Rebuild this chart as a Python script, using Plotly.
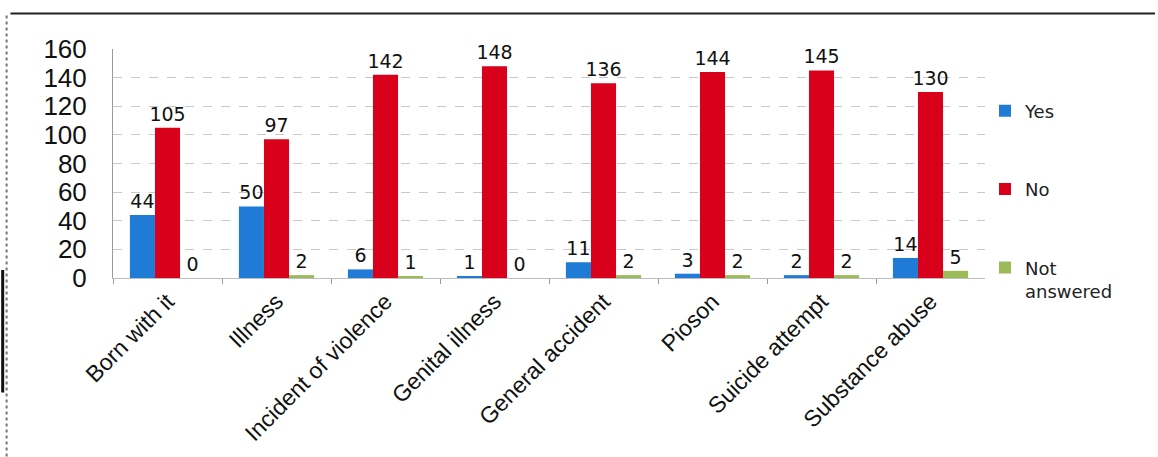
import plotly.graph_objects as go

categories = ["Born with it", "Illness", "Incident of violence", "Genital illness",
              "General accident", "Pioson", "Suicide attempt", "Substance abuse"]
yes_vals = [44, 50, 6, 1, 11, 3, 2, 14]
no_vals = [105, 97, 142, 148, 136, 144, 145, 130]
not_answered_vals = [0, 2, 1, 0, 2, 2, 2, 5]
y_ticks = [0, 20, 40, 60, 80, 100, 120, 140, 160]

label_font = dict(family="DejaVu Sans", size=19, color="#111111")

series = [
    ("Yes", yes_vals, "#1f7bd6", "g1"),
    ("No", no_vals, "#d9001b", "g2"),
    ("Not<br>answered", not_answered_vals, "#9bbb59", "g3"),
]

fig = go.Figure()
for name, vals, color, grp in series:
    fig.add_trace(go.Bar(
        x=categories, y=vals, name=name, legendgroup=grp,
        marker=dict(color=color, line=dict(width=0)),
        text=[str(v) for v in vals], textposition="outside",
        textfont=label_font, cliponaxis=False, constraintext="none",
    ))

fig.update_layout(
    width=1158, height=457,
    margin=dict(l=113, r=173, t=49, b=179),
    paper_bgcolor="white", plot_bgcolor="white",
    barmode="group", bargap=0.31, bargroupgap=0,
    font=dict(family="Liberation Sans", color="#111111"),
    showlegend=True,
    legend=dict(
        x=1.0, xanchor="left", y=0.81, yanchor="top",
        traceorder="grouped", tracegroupgap=52, valign="top",
        font=dict(family="DejaVu Sans", size=18, color="#222222"),
        itemwidth=30,
    ),
)

fig.update_yaxes(
    range=[0, 160], tickvals=y_ticks, ticktext=[str(t) for t in y_ticks],
    tickfont=dict(family="Liberation Sans", size=26, color="#111111"),
    showgrid=True, gridcolor="#c8c8c8", griddash="dash", gridwidth=1,
    showline=True, linecolor="#9a9a9a", linewidth=1,
    zeroline=False, ticks="", ticklabelstandoff=20, automargin=False,
)
fig.update_xaxes(
    tickangle=-45, tickfont=dict(family="Liberation Sans", size=23, color="#111111"),
    showline=True, linecolor="#bdbdbd", linewidth=1,
    ticks="outside", tickson="boundaries", ticklen=5, tickcolor="#9a9a9a",
    showgrid=False, automargin=False,
)

# outer frame of the figure
fig.add_shape(type="line", xref="paper", yref="paper", layer="above",
              x0=-0.1176, x1=1.195, y0=1.155, y1=1.155,
              line=dict(color="#222222", width=2))
fig.add_shape(type="line", xref="paper", yref="paper",
              x0=-0.122, x1=-0.122, y0=-0.78, y1=1.155,
              line=dict(color="#777777", width=2, dash="dot"))
fig.add_shape(type="line", xref="paper", yref="paper",
              x0=-0.1265, x1=-0.1265, y0=0.035, y1=-0.50,
              line=dict(color="#111111", width=3))

fig.write_html("out.html")
